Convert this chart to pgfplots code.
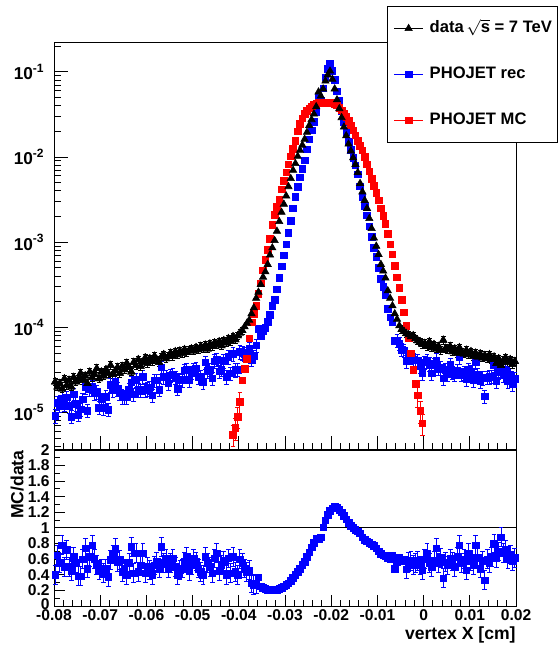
\documentclass[border=0pt]{standalone}
\usepackage{fontspec}
\setmainfont{Liberation Sans}
\usepackage{pgfplots}
\pgfplotsset{compat=1.18}
\usepackage{pgfplotstable}

\pgfplotstableread{
x data rec mc ratio
-0.07975 2.3e-5 0.92e-5 nan 0.40
-0.07925 2.0e-5 1.30e-5 nan 0.65
-0.07875 2.2e-5 1.21e-5 nan 0.55
-0.07825 1.9e-5 1.48e-5 nan 0.78
-0.07775 2.5e-5 1.25e-5 nan 0.50
-0.07725 2.1e-5 1.51e-5 nan 0.72
-0.07675 2.4e-5 1.20e-5 nan 0.50
-0.07625 2.0e-5 0.90e-5 nan 0.45
-0.07575 2.6e-5 1.64e-5 nan 0.63
-0.07525 2.3e-5 1.27e-5 nan 0.55
-0.07475 2.5e-5 0.95e-5 nan 0.38
-0.07425 2.9e-5 1.10e-5 nan 0.38
-0.07375 2.4e-5 1.44e-5 nan 0.60
-0.07325 2.7e-5 2.00e-5 nan 0.74
-0.07275 2.2e-5 1.06e-5 nan 0.48
-0.07225 3.0e-5 1.89e-5 nan 0.63
-0.07175 2.6e-5 2.03e-5 nan 0.78
-0.07125 2.8e-5 1.68e-5 nan 0.60
-0.07075 3.3e-5 1.75e-5 nan 0.53
-0.07025 2.5e-5 1.15e-5 nan 0.46
-0.06975 3.0e-5 1.44e-5 nan 0.48
-0.06925 2.7e-5 1.13e-5 nan 0.42
-0.06875 3.2e-5 1.54e-5 nan 0.48
-0.06825 2.9e-5 1.09e-5 nan 0.375
-0.06775 3.6e-5 2.12e-5 nan 0.59
-0.06725 2.8e-5 1.85e-5 nan 0.66
-0.06675 3.1e-5 2.29e-5 nan 0.74
-0.06625 3.4e-5 1.90e-5 nan 0.56
-0.06575 2.9e-5 1.71e-5 nan 0.59
-0.06525 3.5e-5 1.54e-5 nan 0.44
-0.06475 3.2e-5 1.54e-5 nan 0.48
-0.06425 3.8e-5 1.52e-5 nan 0.40
-0.06375 3.4e-5 1.87e-5 nan 0.55
-0.06325 3.0e-5 2.28e-5 nan 0.76
-0.06275 3.9e-5 1.64e-5 nan 0.42
-0.06225 3.6e-5 2.43e-5 nan 0.675
-0.06175 4.2e-5 1.85e-5 nan 0.44
-0.06125 3.5e-5 1.82e-5 nan 0.52
-0.06075 3.9e-5 2.63e-5 nan 0.675
-0.06025 4.4e-5 1.85e-5 nan 0.42
-0.05975 3.8e-5 1.90e-5 nan 0.50
-0.05925 4.3e-5 1.98e-5 nan 0.46
-0.05875 4.0e-5 1.60e-5 nan 0.40
-0.05825 4.6e-5 2.39e-5 nan 0.52
-0.05775 4.2e-5 2.39e-5 nan 0.57
-0.05725 3.9e-5 1.87e-5 nan 0.48
-0.05675 4.5e-5 3.42e-5 nan 0.76
-0.05625 4.8e-5 2.64e-5 nan 0.55
-0.05575 4.3e-5 2.62e-5 nan 0.61
-0.05525 4.6e-5 2.21e-5 nan 0.48
-0.05475 5.0e-5 2.75e-5 nan 0.55
-0.05425 4.6e-5 2.81e-5 nan 0.61
-0.05375 5.2e-5 2.60e-5 nan 0.50
-0.05325 4.8e-5 1.92e-5 nan 0.40
-0.05275 5.3e-5 2.44e-5 nan 0.46
-0.05225 5.0e-5 2.40e-5 nan 0.48
-0.05175 5.5e-5 3.14e-5 nan 0.57
-0.05125 5.1e-5 3.21e-5 nan 0.63
-0.05075 5.4e-5 2.43e-5 nan 0.45
-0.05025 5.6e-5 2.97e-5 nan 0.53
-0.04975 5.3e-5 3.23e-5 nan 0.61
-0.04925 5.8e-5 3.31e-5 nan 0.57
-0.04875 5.5e-5 2.64e-5 nan 0.48
-0.04825 6.0e-5 2.64e-5 nan 0.44
-0.04775 5.7e-5 2.28e-5 nan 0.40
-0.04725 6.2e-5 3.91e-5 nan 0.63
-0.04675 5.6e-5 3.08e-5 nan 0.55
-0.04625 6.4e-5 3.20e-5 nan 0.50
-0.04575 6.0e-5 2.52e-5 nan 0.42
-0.04525 6.6e-5 4.03e-5 nan 0.61
-0.04475 6.3e-5 4.25e-5 nan 0.675
-0.04425 6.8e-5 3.06e-5 nan 0.45
-0.04375 6.1e-5 3.23e-5 nan 0.53
-0.04325 7.0e-5 4.06e-5 nan 0.58
-0.04275 6.6e-5 2.64e-5 nan 0.40
-0.04225 7.4e-5 4.51e-5 nan 0.61
-0.04175 6.9e-5 2.90e-5 nan 0.42
-0.04125 7.8e-5 4.91e-5 5.5e-6 0.63
-0.04075 7.2e-5 3.17e-5 6.6e-6 0.44
-0.04025 8.0e-5 3.20e-5 9.0e-6 0.40
-0.03975 8.6e-5 5.16e-5 1.35e-5 0.60
-0.03925 9.2e-5 5.06e-5 2.4e-5 0.55
-0.03875 1.02e-4 4.90e-5 3.3e-5 0.48
-0.03825 1.12e-4 4.93e-5 4.3e-5 0.44
-0.03775 1.22e-4 5.61e-5 7.5e-5 0.46
-0.03725 1.45e-4 4.2e-5 1.15e-4 0.29
-0.03675 1.7e-4 4.6e-5 1.45e-4 0.27
-0.03625 2.2e-4 6.2e-5 1.8e-4 0.28
-0.03575 2.6e-4 9.6e-5 2.5e-4 0.37
-0.03525 3.2e-4 8.0e-5 3.3e-4 0.25
-0.03475 3.9e-4 9.0e-5 4.7e-4 0.23
-0.03425 4.5e-4 9.9e-5 6.2e-4 0.22
-0.03375 5.5e-4 1.16e-4 8.2e-4 0.21
-0.03325 7.1e-4 1.42e-4 1.1e-3 0.20
-0.03275 8.6e-4 1.81e-4 1.6e-3 0.21
-0.03225 1.05e-3 2.1e-4 2.1e-3 0.20
-0.03175 1.35e-3 2.8e-4 2.6e-3 0.21
-0.03125 1.75e-3 3.85e-4 3.2e-3 0.22
-0.03075 2.25e-3 5.2e-4 4.2e-3 0.23
-0.03025 2.8e-3 7.0e-4 5.3e-3 0.25
-0.02975 3.5e-3 9.5e-4 6.6e-3 0.27
-0.02925 4.5e-3 1.3e-3 8.2e-3 0.29
-0.02875 5.6e-3 1.8e-3 1.02e-2 0.32
-0.02825 7.0e-3 2.5e-3 1.25e-2 0.36
-0.02775 8.4e-3 3.4e-3 1.55e-2 0.40
-0.02725 1.02e-2 4.5e-3 2.0e-2 0.44
-0.02675 1.2e-2 5.8e-3 2.45e-2 0.48
-0.02625 1.38e-2 7.3e-3 2.85e-2 0.53
-0.02575 1.62e-2 9.2e-3 3.2e-2 0.57
-0.02525 1.95e-2 1.23e-2 3.5e-2 0.63
-0.02475 2.35e-2 1.62e-2 3.75e-2 0.69
-0.02425 2.75e-2 2.06e-2 3.95e-2 0.75
-0.02375 3.2e-2 2.6e-2 4.1e-2 0.81
-0.02325 3.9e-2 3.35e-2 4.2e-2 0.86
-0.02275 5.8e-2 5.0e-2 4.3e-2 0.86
-0.02225 5.2e-2 4.6e-2 4.3e-2 0.88
-0.02175 6.3e-2 6.4e-2 4.35e-2 1.01
-0.02125 7.8e-2 8.6e-2 4.35e-2 1.10
-0.02075 9.2e-2 0.108 4.35e-2 1.17
-0.02025 0.102 0.124 4.35e-2 1.22
-0.01975 8.2e-2 0.103 4.3e-2 1.25
-0.01925 6.3e-2 8.0e-2 4.2e-2 1.27
-0.01875 4.7e-2 5.9e-2 4.05e-2 1.26
-0.01825 3.7e-2 4.55e-2 3.8e-2 1.23
-0.01775 2.9e-2 3.48e-2 3.55e-2 1.20
-0.01725 2.25e-2 2.61e-2 3.25e-2 1.16
-0.01675 1.78e-2 1.98e-2 2.95e-2 1.11
-0.01625 1.42e-2 1.52e-2 2.65e-2 1.07
-0.01575 1.18e-2 1.22e-2 2.35e-2 1.03
-0.01525 9.8e-3 9.8e-3 2.05e-2 1.00
-0.01475 8.2e-3 8.0e-3 1.8e-2 0.98
-0.01425 6.6e-3 6.3e-3 1.55e-2 0.96
-0.01375 4.9e-3 4.56e-3 1.35e-2 0.93
-0.01325 3.9e-3 3.43e-3 1.2e-2 0.88
-0.01275 3.1e-3 2.64e-3 1.0e-2 0.85
-0.01225 2.5e-3 2.08e-3 8.2e-3 0.83
-0.01175 1.9e-3 1.54e-3 6.8e-3 0.81
-0.01125 1.45e-3 1.15e-3 5.6e-3 0.79
-0.01075 1.12e-3 8.6e-4 4.6e-3 0.77
-0.01025 9.0e-4 6.7e-4 3.8e-3 0.74
-0.00975 7.2e-4 5.0e-4 3.1e-3 0.70
-0.00925 5.5e-4 3.7e-4 2.5e-3 0.67
-0.00875 4.6e-4 3.0e-4 2.05e-3 0.65
-0.00825 3.8e-4 2.4e-4 1.65e-3 0.64
-0.00775 2.7e-4 1.67e-4 1.25e-3 0.62
-0.00725 2.2e-4 1.32e-4 9.5e-4 0.60
-0.00675 1.8e-4 1.15e-4 7.2e-4 0.64
-0.00625 1.45e-4 7.0e-5 5.3e-4 0.48
-0.00575 1.25e-4 7.1e-5 3.9e-4 0.57
-0.00525 1.05e-4 6.5e-5 2.9e-4 0.62
-0.00475 9.5e-5 5.5e-5 2.1e-4 0.58
-0.00425 9.0e-5 5.4e-5 1.5e-4 0.60
-0.00375 8.5e-5 4.0e-5 1.05e-4 0.47
-0.00325 8.2e-5 4.6e-5 7.5e-5 0.56
-0.00275 7.8e-5 4.5e-5 5.0e-5 0.58
-0.00225 8.0e-5 4.2e-5 3.2e-5 0.53
-0.00175 7.4e-5 4.1e-5 2.2e-5 0.55
-0.00125 7.0e-5 4.1e-5 1.6e-5 0.58
-0.00075 6.8e-5 3.5e-5 1.05e-5 0.52
-0.00025 6.3e-5 2.9e-5 7.5e-6 0.46
0.00025 6.5e-5 3.9e-5 nan 0.60
0.00075 6.0e-5 4.05e-5 nan 0.675
0.00125 6.8e-5 3.74e-5 nan 0.55
0.00175 5.8e-5 2.9e-5 nan 0.50
0.00225 6.3e-5 3.65e-5 nan 0.58
0.00275 5.6e-5 4.14e-5 nan 0.74
0.00325 6.0e-5 3.3e-5 nan 0.55
0.00375 5.4e-5 3.35e-5 nan 0.62
0.00425 7.1e-5 2.52e-5 nan 0.355
0.00475 5.7e-5 3.19e-5 nan 0.56
0.00525 5.5e-5 2.86e-5 nan 0.52
0.00575 6.0e-5 3.66e-5 nan 0.61
0.00625 5.2e-5 2.96e-5 nan 0.57
0.00675 5.6e-5 2.8e-5 nan 0.50
0.00725 5.0e-5 3.15e-5 nan 0.63
0.00775 5.8e-5 4.52e-5 nan 0.78
0.00825 5.1e-5 2.8e-5 nan 0.55
0.00875 4.9e-5 2.94e-5 nan 0.60
0.00925 5.4e-5 2.48e-5 nan 0.46
0.00975 4.8e-5 3.24e-5 nan 0.675
0.01025 5.2e-5 3.02e-5 nan 0.58
0.01075 4.6e-5 2.44e-5 nan 0.53
0.01125 5.0e-5 3.9e-5 nan 0.78
0.01175 4.5e-5 2.79e-5 nan 0.62
0.01225 4.9e-5 2.35e-5 nan 0.48
0.01275 4.4e-5 2.55e-5 nan 0.58
0.01325 4.7e-5 1.55e-5 nan 0.33
0.01375 4.3e-5 2.58e-5 nan 0.60
0.01425 4.8e-5 2.64e-5 nan 0.55
0.01475 4.2e-5 2.65e-5 nan 0.63
0.01525 4.5e-5 3.6e-5 nan 0.80
0.01575 3.8e-5 2.36e-5 nan 0.62
0.01625 4.3e-5 3.01e-5 nan 0.70
0.01675 3.6e-5 3.17e-5 nan 0.88
0.01725 4.1e-5 2.77e-5 nan 0.675
0.01775 4.4e-5 3.17e-5 nan 0.72
0.01825 3.9e-5 2.34e-5 nan 0.60
0.01875 4.2e-5 2.77e-5 nan 0.66
0.01925 3.7e-5 2.15e-5 nan 0.58
0.01975 4.0e-5 2.48e-5 nan 0.62
}\tab

\definecolor{rblue}{RGB}{0,0,255}
\definecolor{rred}{RGB}{255,0,0}

\pgfplotsset{
  recs/.style={only marks, mark=square*, mark size=1.65pt, color=rblue, mark options={draw=rblue, fill=rblue, line width=0.3pt}},
  mcs/.style={only marks, mark=square*, mark size=1.65pt, color=rred, mark options={draw=rred, fill=rred, line width=0.3pt}},
  dats/.style={only marks, mark=triangle*, mark size=2.1pt, color=black, mark options={draw=black, fill=black, line width=0.3pt}},
  ebrel/.style={error bars/y dir=both, error bars/y fixed relative=#1, error bars/error bar style={line width=0.5pt}, error bars/error mark options={rotate=90, line width=0.5pt, mark size=1.2pt}},
  ebabs/.style={error bars/y dir=both, error bars/y fixed=#1, error bars/error bar style={line width=0.5pt}, error bars/error mark options={rotate=90, line width=0.5pt, mark size=1.2pt}},
  common/.style={
    scale only axis, width=231pt, xmin=-0.08, xmax=0.02, clip=false,
    scaled ticks=false,
    axis line style={line width=0.5pt}, every tick/.style={line width=0.5pt, black},
    xtick pos=bottom, ytick pos=left,
    xtick={-0.08,-0.07,-0.06,-0.05,-0.04,-0.03,-0.02,-0.01,0,0.01,0.02},
    minor x tick num=4,
    tick label style={font=\bfseries\fontsize{7.8}{9}\selectfont},
  },
}

\begin{document}
\begin{tikzpicture}[font=\bfseries]
\useasboundingbox (0,0) rectangle (278.5pt,323pt);

% ratio panel
\begin{axis}[common, at={(27pt,20pt)}, anchor=south west, height=78pt,
  ymin=0, ymax=2,
  ytick={0,0.2,0.4,0.6,0.8,1,1.2,1.4,1.6,1.8,2},
  yticklabels={\raisebox{1.8pt}{0},0.2,0.4,0.6,0.8,1,1.2,1.4,1.6,1.8,2},
  minor y tick num=1,
  major tick length=5.5pt, minor tick length=3pt,
  xticklabels={-0.08,-0.07,-0.06,-0.05,-0.04,-0.03,-0.02,-0.01,0,0.01,0.02},
  xticklabel style={inner sep=0pt, yshift=-1.8pt},
  yticklabel style={inner sep=0pt, xshift=-2pt},
  xlabel={vertex X [cm]},
  xlabel style={at={(rel axis cs:1,0)}, anchor=north east, inner sep=0pt, yshift=-10pt, font=\bfseries\fontsize{8.8}{10}\selectfont},
  ylabel={MC/data},
  ylabel style={at={(rel axis cs:-0.0649,1)}, anchor=south east, inner sep=0pt, font=\bfseries\fontsize{8.8}{10}\selectfont},
]
\addplot[black, line width=0.5pt, forget plot] coordinates {(-0.08,1) (0.02,1)};
\addplot[recs, ebabs=0.12, restrict x to domain=-0.081:-0.036] table[x=x, y=ratio]{\tab};
\addplot[recs, ebabs=0.12, restrict x to domain=-0.004:0.021] table[x=x, y=ratio]{\tab};
\addplot[recs] table[x=x, y=ratio]{\tab};
\end{axis}

% main panel
\begin{axis}[common, at={(27pt,98pt)}, anchor=south west, height=203.5pt,
  ymode=log, ymin=3.65e-6, ymax=0.218,
  ytick={1e-5,1e-4,1e-3,1e-2,1e-1},
  yticklabels={{10\textsuperscript{-5}},{10\textsuperscript{-4}},{10\textsuperscript{-3}},{10\textsuperscript{-2}},{10\textsuperscript{-1}}},
  minor ytick={4e-6,5e-6,6e-6,7e-6,8e-6,9e-6,2e-5,3e-5,4e-5,5e-5,6e-5,7e-5,8e-5,9e-5,2e-4,3e-4,4e-4,5e-4,6e-4,7e-4,8e-4,9e-4,2e-3,3e-3,4e-3,5e-3,6e-3,7e-3,8e-3,9e-3,2e-2,3e-2,4e-2,5e-2,6e-2,7e-2,8e-2,9e-2,2e-1},
  major tick length=7pt, minor tick length=3.5pt,
  xticklabels={},
  yticklabel style={inner sep=0pt, xshift=-4.5pt, font=\bfseries\fontsize{8.6}{10}\selectfont},
  legend style={at={(rel axis cs:0.7208,1.0909)}, anchor=north west, draw=black, line width=0.5pt, fill=white,
    inner xsep=3pt, inner ysep=7pt, row sep=15pt, column sep=3pt,
    font=\bfseries\fontsize{8.3}{10}\selectfont,
    nodes={inner sep=0pt, text height=6.2pt, text depth=1.8pt}},
  legend cell align=left,
  legend image code/.code={\draw[mark repeat=2, mark phase=2, #1] plot coordinates {(0pt,0pt) (7.25pt,0pt) (14.5pt,0pt)};},
]
\addlegendimage{black, line width=0.6pt, mark=triangle*, mark size=2.1pt, mark options={fill=black, line width=0.3pt}}
\addlegendentry{data\,$\sqrt{\mbox{\bfseries s}}$ = 7 TeV}
\addlegendimage{rblue, line width=0.6pt, mark=square*, mark size=1.65pt, mark options={fill=rblue, line width=0.3pt}}
\addlegendentry{PHOJET rec}
\addlegendimage{rred, line width=0.6pt, mark=square*, mark size=1.65pt, mark options={fill=rred, line width=0.3pt}}
\addlegendentry{PHOJET MC}

\addplot[recs, forget plot, ebrel=0.18, restrict x to domain=-0.081:-0.036] table[x=x, y=rec]{\tab};
\addplot[recs, forget plot, ebrel=0.18, restrict x to domain=-0.006:0.021] table[x=x, y=rec]{\tab};
\addplot[recs, forget plot] table[x=x, y=rec]{\tab};
\addplot[mcs, forget plot, ebrel=0.28, restrict x to domain=-0.042:-0.0395] table[x=x, y=mc]{\tab};
\addplot[mcs, forget plot, ebrel=0.28, restrict x to domain=-0.0015:0] table[x=x, y=mc]{\tab};
\addplot[mcs, forget plot] table[x=x, y=mc]{\tab};
\addplot[dats, forget plot, ebrel=0.1, restrict x to domain=-0.081:-0.039] table[x=x, y=data]{\tab};
\addplot[dats, forget plot, ebrel=0.1, restrict x to domain=-0.005:0.021] table[x=x, y=data]{\tab};
\addplot[dats, forget plot] table[x=x, y=data]{\tab};
\end{axis}
\end{tikzpicture}
\end{document}
